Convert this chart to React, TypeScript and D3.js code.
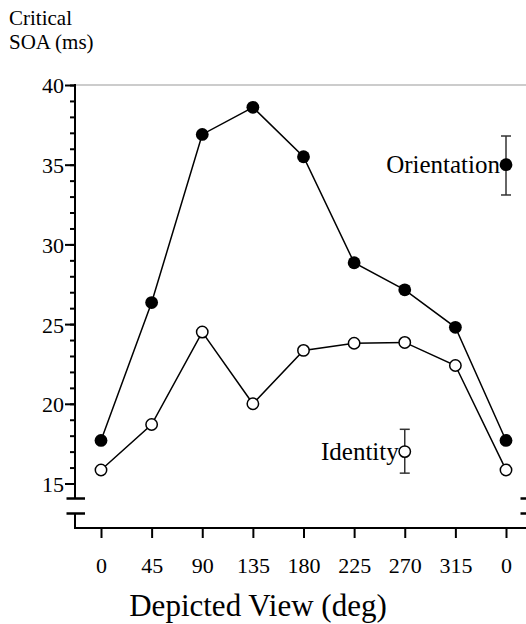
import { useEffect, useRef } from 'react'
import * as d3 from 'd3'

// ─── Data ────────────────────────────────────────────────────────────────────

const views = [0, 45, 90, 135, 180, 225, 270, 315, 360]
const viewLabels = ['0', '45', '90', '135', '180', '225', '270', '315', '0']
const orientation = [17.7, 26.35, 36.9, 38.6, 35.5, 28.85, 27.15, 24.8, 17.7]
const identity = [15.85, 18.7, 24.5, 20.0, 23.35, 23.8, 23.85, 22.4, 15.85]
const yMajor = [15, 20, 25, 30, 35, 40]
const yMinor = d3.range(15, 41)

// legend markers with error bars
const orientationKey = { view: 360, value: 35.0, lo: 33.1, hi: 36.8, label: 'Orientation' }
const identityKey = { view: 270, value: 17.0, lo: 15.65, hi: 18.4, label: 'Identity' }

const W = 526
const H = 624
const FONT = 'Liberation Serif'

export default function App() {
  const ref = useRef<SVGSVGElement>(null)

  useEffect(() => {
    if (!ref.current) return
    const svg = d3.select(ref.current)
    svg.selectAll('*').remove()
    svg.attr('width', W).attr('height', H)

    const x = d3.scaleLinear().domain([0, 360]).range([101, 506])
    const y = d3.scaleLinear().domain([15, 40]).range([483.5, 85])

    const axisX = 75
    const baseY = 528
    const breakTop = 498.5
    const breakBot = 513.5

    // top frame line (gray)
    svg.append('line')
      .attr('x1', axisX).attr('x2', W)
      .attr('y1', y(40)).attr('y2', y(40))
      .attr('stroke', '#9a9a9a').attr('stroke-width', 1.2)

    // Y axis: minor ticks
    svg.append('g')
      .attr('transform', `translate(${axisX},0)`)
      .call(d3.axisLeft(y).tickValues(yMinor).tickSize(5).tickFormat(() => ''))
      .call((sel) => sel.select('.domain').remove())
      .call((sel) => sel.selectAll('line').attr('stroke', '#000').attr('stroke-width', 2))

    // Y axis: major ticks + labels
    svg.append('g')
      .attr('transform', `translate(${axisX},0)`)
      .call(d3.axisLeft(y).tickValues(yMajor).tickSize(10).tickPadding(1).tickFormat((d) => `${d}`))
      .call((sel) => sel.select('.domain').remove())
      .call((sel) => sel.selectAll('line').attr('stroke', '#000').attr('stroke-width', 2))
      .call((sel) =>
        sel.selectAll('text')
          .style('font-family', FONT)
          .attr('font-size', 22)
          .attr('fill', '#000')
          .attr('dy', '0.36em'),
      )

    // Y axis line with break
    svg.append('line')
      .attr('x1', axisX).attr('x2', axisX)
      .attr('y1', y(40) - 1).attr('y2', breakTop)
      .attr('stroke', '#000').attr('stroke-width', 2)
    svg.append('line')
      .attr('x1', axisX).attr('x2', axisX)
      .attr('y1', breakBot).attr('y2', baseY + 1)
      .attr('stroke', '#000').attr('stroke-width', 2)

    // break marks (left & right)
    ;[breakTop, breakBot].forEach((by) => {
      svg.append('line')
        .attr('x1', 66.5).attr('x2', 85)
        .attr('y1', by).attr('y2', by)
        .attr('stroke', '#000').attr('stroke-width', 2.5)
      svg.append('line')
        .attr('x1', 520.5).attr('x2', 540)
        .attr('y1', by).attr('y2', by)
        .attr('stroke', '#000').attr('stroke-width', 2.5)
    })

    // X axis
    svg.append('line')
      .attr('x1', axisX - 1).attr('x2', W)
      .attr('y1', baseY).attr('y2', baseY)
      .attr('stroke', '#000').attr('stroke-width', 2)

    svg.append('g')
      .attr('transform', `translate(0,${baseY})`)
      .call(
        d3.axisBottom(x)
          .tickValues(views)
          .tickSize(10)
          .tickPadding(19)
          .tickFormat((_, i) => viewLabels[i]),
      )
      .call((sel) => sel.select('.domain').remove())
      .call((sel) => sel.selectAll('line').attr('stroke', '#000').attr('stroke-width', 2))
      .call((sel) =>
        sel.selectAll('text')
          .style('font-family', FONT)
          .attr('font-size', 22)
          .attr('fill', '#000'),
      )

    // Lines
    const line = d3.line<number>()
      .x((_, i) => x(views[i]))
      .y((d) => y(d))

    ;[orientation, identity].forEach((series) => {
      svg.append('path')
        .datum(series)
        .attr('d', line)
        .attr('fill', 'none')
        .attr('stroke', '#000')
        .attr('stroke-width', 1.5)
    })

    // Markers
    svg.selectAll('.dot-o')
      .data(orientation)
      .join('circle')
      .attr('class', 'dot-o')
      .attr('cx', (_, i) => x(views[i]))
      .attr('cy', (d) => y(d))
      .attr('r', 6.4)
      .attr('fill', '#000')

    svg.selectAll('.dot-i')
      .data(identity)
      .join('circle')
      .attr('class', 'dot-i')
      .attr('cx', (_, i) => x(views[i]))
      .attr('cy', (d) => y(d))
      .attr('r', 5.7)
      .attr('fill', '#fff')
      .attr('stroke', '#000')
      .attr('stroke-width', 1.5)

    // Legend keys with error bars
    const drawKey = (k: typeof orientationKey, filled: boolean) => {
      const cx = x(k.view)
      const g = svg.append('g')
      g.append('line')
        .attr('x1', cx).attr('x2', cx)
        .attr('y1', y(k.hi)).attr('y2', y(k.lo))
        .attr('stroke', '#333').attr('stroke-width', 1.5)
      ;[k.hi, k.lo].forEach((v) => {
        g.append('line')
          .attr('x1', cx - 5).attr('x2', cx + 5)
          .attr('y1', y(v)).attr('y2', y(v))
          .attr('stroke', '#333').attr('stroke-width', 1.5)
      })
      g.append('circle')
        .attr('cx', cx).attr('cy', y(k.value))
        .attr('r', filled ? 6.4 : 5.7)
        .attr('fill', filled ? '#000' : '#fff')
        .attr('stroke', filled ? 'none' : '#000')
        .attr('stroke-width', 1.5)
      g.append('text')
        .attr('x', cx - 6)
        .attr('y', y(k.value))
        .attr('dy', '0.33em')
        .attr('text-anchor', 'end')
        .style('font-family', FONT)
        .attr('font-size', 25)
        .attr('fill', '#000')
        .text(k.label)
    }
    drawKey(orientationKey, true)
    drawKey(identityKey, false)

    // Axis titles
    svg.append('text')
      .attr('x', 9).attr('y', 25)
      .style('font-family', FONT)
      .attr('font-size', 21)
      .text('Critical')
    svg.append('text')
      .attr('x', 9).attr('y', 49)
      .style('font-family', FONT)
      .attr('font-size', 21)
      .text('SOA (ms)')

    svg.append('text')
      .attr('x', 258).attr('y', 616)
      .attr('text-anchor', 'middle')
      .style('font-family', FONT)
      .attr('font-size', 31)
      .text('Depicted View (deg)')
  }, [])

  return (
    <svg
      ref={ref}
      width={W}
      height={H}
      style={{ position: 'absolute', left: 0, top: 0, background: '#fff', display: 'block' }}
    />
  )
}
